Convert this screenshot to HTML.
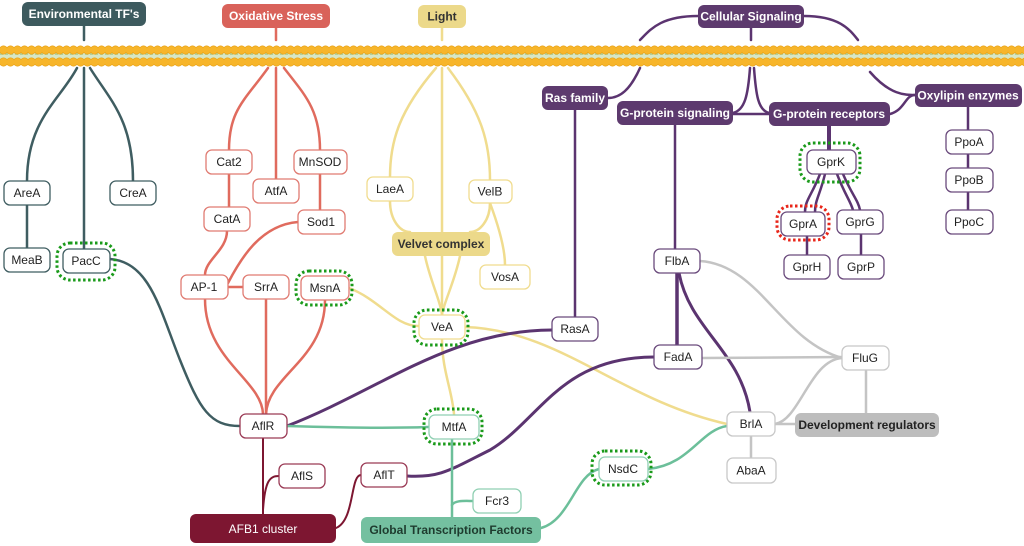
<!DOCTYPE html>
<html><head><meta charset="utf-8"><style>
html,body{margin:0;padding:0;background:#fff;width:1024px;height:546px;overflow:hidden}
svg text{font-family:"Liberation Sans",sans-serif;font-size:12px;text-anchor:middle;dominant-baseline:central}
</style></head><body>
<svg width="1024" height="546" viewBox="0 0 1024 546" xmlns="http://www.w3.org/2000/svg">
<defs>
<pattern id="lip" x="0" y="0" width="7" height="28" patternUnits="userSpaceOnUse">
<circle cx="3.5" cy="6" r="4.2" fill="#f7b52a" stroke="#e79f12" stroke-width="0.6"/>
<circle cx="3.5" cy="22" r="4.2" fill="#f7b52a" stroke="#e79f12" stroke-width="0.6"/>
</pattern>
</defs>
<rect x="0" y="49" width="1024" height="10" fill="#d7e6c4"/>
<line x1="0" y1="54" x2="1024" y2="54" stroke="#b5cf96" stroke-width="2" stroke-dasharray="3 2"/>
<rect x="0" y="40" width="1024" height="28" fill="url(#lip)"/>

<g fill="none" stroke-linecap="round">
<!-- Environmental -->
<g stroke="#3f5d61" stroke-width="2.5">
<path d="M84 26 V40"/>
<path d="M77 68 C60 100 27 120 27 181"/>
<path d="M84 68 V249"/>
<path d="M90 68 C110 100 133 120 133 181"/>
<path d="M27 205 V248"/>
<path d="M110 259 C150 262 160 310 180 360 C200 410 210 426 240 426"/>
</g>
<!-- Oxidative -->
<g stroke="#e06b5e" stroke-width="2.5">
<path d="M276 28 V40"/>
<path d="M268 68 C245 100 229 110 229 150"/>
<path d="M276 68 V179"/>
<path d="M284 68 C305 95 320 110 320 150"/>
<path d="M229 174 V207"/>
<path d="M320 174 V210"/>
<path d="M227 231 C227 250 205 260 205 275"/>
<path d="M298 222 C260 225 240 260 228 283"/>
<path d="M228 287 H243"/>
<path d="M205 299 C205 360 262 380 263 414"/>
<path d="M266 299 V414"/>
<path d="M325 300 C325 360 268 375 266 414"/>
</g>
<!-- Light -->
<g stroke="#f0dc8e" stroke-width="2.5">
<path d="M442 28 V40"/>
<path d="M436 68 C400 110 390 140 390 177"/>
<path d="M442 68 V232"/>
<path d="M448 68 C480 110 490 140 490 180"/>
<path d="M390 201 C390 220 400 232 410 232"/>
<path d="M490 203 C490 220 480 232 470 232"/>
<path d="M490 203 C500 230 505 250 505 265"/>
<path d="M442 256 V314"/>
<path d="M425 256 C430 280 440 300 442 314"/>
<path d="M460 256 C455 280 445 300 442 314"/>
<path d="M349 288 C380 300 395 326 418 326"/>
<path d="M442 339 C442 370 452 390 454 414"/>
<path d="M465 327 C560 330 620 400 727 424"/>
</g>
<!-- Purple -->
<g stroke="#5b3470" stroke-width="2.5">
<path d="M698 16 C660 16 650 30 640 40"/>
<path d="M751 28 V40"/>
<path d="M804 16 C840 16 850 30 858 40"/>
<path d="M640 68 C630 90 620 98 608 98"/>
<path d="M750 68 C748 95 745 110 733 113"/>
<path d="M754 68 C756 95 758 110 769 113"/>
<path d="M733 114 H769"/>
<path d="M870 72 C890 95 905 95 915 95"/>
<path d="M890 114 C905 110 905 95 915 95"/>
<path d="M575 110 V317"/>
<path d="M675 125 V249"/>
<path d="M968 107 V130 M968 154 V168 M968 192 V210"/>
<path d="M829 126 V150" stroke-width="4"/>
<path d="M820 174 C812 195 805 200 805 212"/>
<path d="M825 174 C820 195 815 200 815 212"/>
<path d="M837 174 C845 195 850 200 853 210"/>
<path d="M843 174 C852 195 858 200 860 210"/>
<path d="M807 236 V255 M861 234 V255"/>
<path d="M677 273 V345" stroke-width="3.5"/>
<path d="M679 273 C690 330 740 350 750 412" stroke-width="3"/>
<path d="M552 330 C450 330 380 390 287 426" stroke-width="3"/>
<path d="M654 357 C560 357 540 420 490 450 C450 470 440 478 407 476" stroke-width="3"/>
</g>
<!-- grey -->
<g stroke="#c4c4c4" stroke-width="2.5">
<path d="M700 261 C760 265 780 340 842 358"/>
<path d="M702 358 L842 357"/>
<path d="M775 424 C800 420 810 360 842 358"/>
<path d="M775 424 H795"/>
<path d="M866 370 V413"/>
<path d="M751 436 V458"/>
</g>
<!-- green -->
<g stroke="#6cbf9a" stroke-width="2.5">
<path d="M287 426 C350 428 400 428 428 427"/>
<path d="M452 439 V517"/>
<path d="M452 505 C455 500 465 501 473 501"/>
<path d="M541 528 C570 520 575 475 599 469"/>
<path d="M648 469 C690 465 700 430 727 426"/>
</g>
<!-- maroon -->
<g stroke="#7d1631" stroke-width="2">
<path d="M263 438 V514"/>
<path d="M263 510 C265 480 270 476 279 476"/>
<path d="M336 528 C355 520 350 475 361 475"/>
</g>
</g>

<!-- filled headers -->
<g>
<rect x="22" y="2" width="124" height="24" rx="6" fill="#3d5a5e"/><text x="84" y="14" fill="#fff" font-weight="bold">Environmental TF's</text>
<rect x="222" y="4" width="108" height="24" rx="6" fill="#d9625a"/><text x="276" y="16" fill="#fff" font-weight="bold">Oxidative Stress</text>
<rect x="418" y="5" width="48" height="23" rx="6" fill="#ecd98a"/><text x="442" y="16.5" fill="#333" font-weight="bold">Light</text>
<rect x="698" y="5" width="106" height="23" rx="6" fill="#5d3a6e"/><text x="751" y="16.5" fill="#fff" font-weight="bold">Cellular Signaling</text>
<rect x="542" y="86" width="66" height="24" rx="6" fill="#5d3a6e"/><text x="575" y="98" fill="#fff" font-weight="bold">Ras family</text>
<rect x="617" y="101" width="116" height="24" rx="6" fill="#5d3a6e"/><text x="675" y="113" fill="#fff" font-weight="bold" font-size="11">G-protein signaling</text>
<rect x="769" y="102" width="121" height="24" rx="6" fill="#5d3a6e"/><text x="829" y="114" fill="#fff" font-weight="bold">G-protein receptors</text>
<rect x="915" y="84" width="107" height="23" rx="6" fill="#5d3a6e"/><text x="968" y="95.5" fill="#fff" font-weight="bold">Oxylipin enzymes</text>
<rect x="392" y="232" width="98" height="24" rx="6" fill="#ecd98a"/><text x="441" y="244" fill="#333" font-weight="bold" font-size="11">Velvet complex</text>
<rect x="795" y="413" width="144" height="24" rx="6" fill="#bdbdbd"/><text x="867" y="425" fill="#222" font-weight="bold">Development regulators</text>
<rect x="361" y="517" width="180" height="26" rx="6" fill="#74c0a0"/><text x="451" y="530" fill="#1e3b2e" font-weight="bold">Global Transcription Factors</text>
<rect x="190" y="514" width="146" height="29" rx="6" fill="#7d1631"/><text x="263" y="529" fill="#fff" font-size="18">AFB1 cluster</text>
</g>

<!-- dotted rings -->
<g fill="none" stroke-width="3" stroke-dasharray="2.5 2.5">
<rect x="57" y="243" width="58" height="37" rx="13" stroke="#1a9a1a"/>
<rect x="296" y="271" width="56" height="34" rx="13" stroke="#1a9a1a"/>
<rect x="414" y="310" width="54" height="35" rx="13" stroke="#1a9a1a"/>
<rect x="424" y="409" width="58" height="35" rx="13" stroke="#1a9a1a"/>
<rect x="592" y="451" width="59" height="34" rx="13" stroke="#1a9a1a"/>
<rect x="800" y="143" width="60" height="39" rx="13" stroke="#1a9a1a"/>
<rect x="777" y="206" width="52" height="34" rx="13" stroke="#e8261a"/>
</g>

<!-- nodes -->
<g stroke-width="1.3" fill="#fff">
<g stroke="#3f5d61">
<rect x="4" y="181" width="46" height="24" rx="6"/><rect x="110" y="181" width="46" height="24" rx="6"/>
<rect x="4" y="248" width="46" height="24" rx="6"/><rect x="63" y="249" width="47" height="24" rx="6"/>
</g>
<g stroke="#e07b72">
<rect x="206" y="150" width="46" height="24" rx="6"/><rect x="204" y="207" width="46" height="24" rx="6"/>
<rect x="253" y="179" width="46" height="24" rx="6"/><rect x="294" y="150" width="53" height="24" rx="6"/>
<rect x="298" y="210" width="47" height="24" rx="6"/><rect x="181" y="275" width="47" height="24" rx="6"/>
<rect x="243" y="275" width="46" height="24" rx="6"/><rect x="301" y="276" width="48" height="24" rx="6"/>
</g>
<g stroke="#f0dc8e">
<rect x="367" y="177" width="46" height="24" rx="6"/><rect x="469" y="180" width="43" height="23" rx="6"/>
<rect x="480" y="265" width="50" height="24" rx="6"/><rect x="419" y="315" width="46" height="24" rx="6"/>
</g>
<g stroke="#6a4a7c">
<rect x="946" y="130" width="47" height="24" rx="6"/><rect x="946" y="168" width="47" height="24" rx="6"/>
<rect x="946" y="210" width="47" height="24" rx="6"/><rect x="807" y="150" width="49" height="24" rx="6"/>
<rect x="781" y="212" width="44" height="24" rx="6"/><rect x="837" y="210" width="46" height="24" rx="6"/>
<rect x="784" y="255" width="46" height="24" rx="6"/><rect x="838" y="255" width="46" height="24" rx="6"/>
<rect x="654" y="249" width="46" height="24" rx="6"/><rect x="552" y="317" width="46" height="24" rx="6"/>
<rect x="654" y="345" width="48" height="24" rx="6"/>
</g>
<g stroke="#c8c8c8">
<rect x="842" y="346" width="47" height="24" rx="6"/><rect x="727" y="412" width="48" height="24" rx="6"/>
<rect x="727" y="458" width="49" height="25" rx="6"/>
</g>
<g stroke="#8fcfb2">
<rect x="429" y="415" width="50" height="24" rx="6"/><rect x="599" y="457" width="49" height="24" rx="6"/>
<rect x="473" y="489" width="48" height="24" rx="6"/>
</g>
<g stroke="#9a3a55">
<rect x="240" y="414" width="47" height="24" rx="6"/><rect x="279" y="464" width="46" height="24" rx="6"/>
<rect x="361" y="463" width="46" height="24" rx="6"/>
</g>
</g>
<g fill="#222">
<text x="27" y="193">AreA</text><text x="133" y="193">CreA</text><text x="27" y="260">MeaB</text><text x="86" y="261">PacC</text>
<text x="229" y="162">Cat2</text><text x="227" y="219">CatA</text><text x="276" y="191">AtfA</text><text x="320" y="162">MnSOD</text>
<text x="321" y="222">Sod1</text><text x="204" y="287">AP-1</text><text x="266" y="287">SrrA</text><text x="325" y="288">MsnA</text>
<text x="390" y="189">LaeA</text><text x="490" y="191.5">VelB</text><text x="505" y="277">VosA</text><text x="442" y="327">VeA</text>
<text x="969" y="142">PpoA</text><text x="969" y="180">PpoB</text><text x="969" y="222">PpoC</text><text x="831" y="162">GprK</text>
<text x="803" y="224">GprA</text><text x="860" y="222">GprG</text><text x="807" y="267">GprH</text><text x="861" y="267">GprP</text>
<text x="677" y="261">FlbA</text><text x="575" y="329">RasA</text><text x="678" y="357">FadA</text>
<text x="865" y="358">FluG</text><text x="751" y="424">BrlA</text><text x="751" y="470.5">AbaA</text>
<text x="454" y="427">MtfA</text><text x="623" y="469">NsdC</text><text x="497" y="501">Fcr3</text>
<text x="263" y="426">AflR</text><text x="302" y="476">AflS</text><text x="384" y="475">AflT</text>
</g>
</svg>
</body></html>
